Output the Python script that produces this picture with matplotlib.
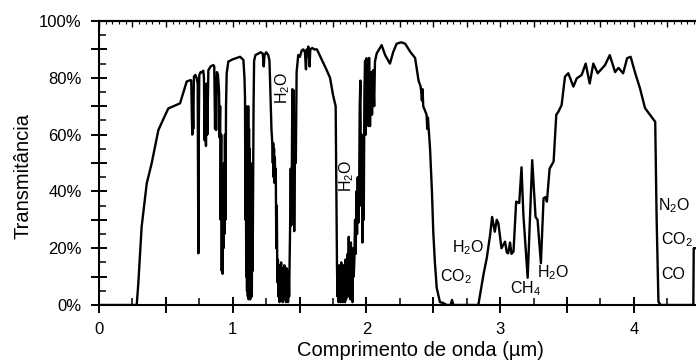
import numpy as np
import matplotlib.pyplot as plt
from matplotlib.ticker import MultipleLocator, FuncFormatter

plt.rcParams['font.family'] = ['Liberation Sans', 'DejaVu Sans']
plt.rcParams['mathtext.fontset'] = 'custom'
plt.rcParams['mathtext.rm'] = 'Liberation Sans'
plt.rcParams['mathtext.it'] = 'Liberation Sans'
plt.rcParams['mathtext.bf'] = 'Liberation Sans:bold'

# UV + visivel (um, %)
wl_vis = [0.00, 0.27, 0.282, 0.294, 0.319, 0.357, 0.394, 0.444, 0.518, 0.606, 0.656, 0.686]
tr_vis = [0, 0, 0, 7.6, 27.6, 42.8, 49.9, 61.6, 69.2, 71, 78.7, 79.2]

# bandas O2 / H2O 0.69 - 1.08
wl_nir = [0.690, 0.695, 0.698, 0.701, 0.705, 0.710, 0.720, 0.730, 0.738, 0.741, 0.743, 0.746,
          0.750, 0.760, 0.770, 0.780, 0.785, 0.790, 0.795, 0.800, 0.805, 0.810, 0.818, 0.835,
          0.855, 0.862, 0.868, 0.872, 0.876, 0.882, 0.890, 0.898, 0.902, 0.906, 0.910, 0.914,
          0.918, 0.921, 0.924, 0.927, 0.931, 0.935, 0.938, 0.942, 0.946, 0.950, 0.955, 0.967,
          1.000, 1.055, 1.080]
tr_nir = [79, 65, 60, 72, 62, 80.4, 81, 80, 78, 40, 18.2, 60,
          81, 82, 82, 82.5, 80, 58, 75, 56, 78, 60, 82.7, 84,
          84.5, 84, 62, 80, 61.6, 82, 81, 75, 59, 70, 30, 60,
          12, 40, 11, 35, 20, 50, 25, 60, 30, 70, 81.6, 85.7,
          86.5, 87.4, 86.3]

# banda 1.1 um
wl_b11 = [1.088, 1.092, 1.095, 1.098, 1.101, 1.104, 1.107, 1.110, 1.113, 1.116, 1.119, 1.122,
          1.125, 1.128, 1.131, 1.134, 1.137, 1.140, 1.143, 1.146, 1.149, 1.152, 1.156, 1.160,
          1.170, 1.190, 1.210, 1.225, 1.232, 1.238, 1.250, 1.266, 1.275]
tr_b11 = [80, 73, 30, 70, 10, 68, 5, 60, 3, 70, 2, 62,
          4, 55, 2, 50, 8, 45, 3, 35, 12, 40, 70, 86,
          88, 88.5, 89, 88.5, 84, 88, 89, 88, 86]

# banda 1.4 um
wl_b14 = [1.285, 1.290, 1.295, 1.300, 1.303, 1.306, 1.309, 1.312, 1.315, 1.318, 1.322, 1.326,
          1.330, 1.334, 1.338, 1.342, 1.346, 1.350, 1.354, 1.358, 1.362, 1.366, 1.370, 1.374,
          1.378, 1.382, 1.386, 1.390, 1.394, 1.398, 1.402, 1.406, 1.410, 1.414, 1.418, 1.422,
          1.426, 1.430, 1.434, 1.438, 1.442, 1.446, 1.450, 1.455, 1.460, 1.466, 1.472, 1.478,
          1.490, 1.503, 1.515, 1.528, 1.540, 1.548, 1.553, 1.560, 1.565, 1.575, 1.580, 1.595,
          1.610, 1.630, 1.670, 1.700, 1.728, 1.750, 1.765]
tr_b14 = [70, 61.6, 58, 50, 57, 45, 55, 43, 52, 44, 48, 20,
          35, 8, 16, 3, 14, 1, 12, 4, 15, 2, 13, 1,
          10, 3, 14, 2, 11, 1, 13, 4, 9, 1, 12, 3,
          16, 30, 48, 28, 45, 76, 40, 75.7, 26, 60, 50, 82,
          88, 87.4, 89.5, 90, 89, 83, 90, 88, 91, 84, 90, 90.5,
          90, 90, 86, 83, 80, 74, 71]

# banda 1.9 um
wl_b19 = [1.770, 1.775, 1.780, 1.784, 1.788, 1.792, 1.796, 1.800, 1.804, 1.808, 1.812, 1.816,
          1.820, 1.824, 1.828, 1.832, 1.836, 1.840, 1.844, 1.848, 1.852, 1.856, 1.860, 1.864,
          1.868, 1.872, 1.876, 1.880, 1.884, 1.888, 1.892, 1.896, 1.900, 1.905, 1.910, 1.915,
          1.920, 1.925, 1.930, 1.935, 1.940, 1.945, 1.950, 1.955, 1.960, 1.965, 1.970, 1.975,
          1.980, 1.985, 1.990, 1.995, 2.000, 2.005, 2.010, 2.015, 2.020, 2.027, 2.035, 2.042,
          2.050, 2.058, 2.064, 2.077]
tr_b19 = [70, 40, 13.5, 3, 12, 1, 14, 2, 10, 1, 15, 3,
          12, 1, 14, 4, 11, 1, 16, 2, 13, 5, 18, 3,
          24, 6, 20, 2, 22, 8, 18, 1, 20, 10, 16, 30,
          18, 40, 25, 45, 29, 37, 70, 79, 35, 60, 22, 52,
          30, 75, 86, 60, 86.9, 65, 81.6, 63, 87, 63, 82, 67,
          82.7, 70, 85.7, 88.6]

# janela 2.1 - 2.5 um e banda CO2 2.7 um
wl_b27 = [2.114, 2.140, 2.176, 2.200, 2.226, 2.260, 2.290, 2.330, 2.364, 2.390, 2.405, 2.410,
          2.415, 2.420, 2.425, 2.450, 2.455, 2.460, 2.476, 2.490, 2.500, 2.512, 2.526, 2.550,
          2.575, 2.600, 2.630, 2.640, 2.650, 2.837]
tr_b27 = [91.5, 88, 85, 89, 92, 92.5, 92, 89, 87, 79, 77, 75,
          72, 76, 70, 67, 62, 66, 55, 40, 25.8, 15, 6, 1,
          0.7, 0, 0, 1.8, 0, 0]

# 2.8 - 3.5 um (H2O, CH4)
wl_b33 = [2.875, 2.900, 2.925, 2.940, 2.960, 2.975, 2.987, 3.010, 3.037, 3.050, 3.060, 3.074,
          3.085, 3.100, 3.120, 3.143, 3.160, 3.174, 3.206, 3.240, 3.265, 3.280, 3.305, 3.325,
          3.340, 3.350, 3.370, 3.400, 3.420, 3.435, 3.460]
tr_b33 = [10.6, 16.5, 24.6, 31, 25.8, 30, 28.8, 20, 22.3, 18.5, 18.2, 22,
          18, 18.8, 36.4, 35.9, 48.5, 31.7, 9.6, 51, 31, 30, 14.7, 37.6,
          38, 36.4, 48, 50.5, 67, 68, 70.4]

# janela 3.5 - 4.2 um
wl_b40 = [3.485, 3.510, 3.548, 3.573, 3.610, 3.640, 3.670, 3.697, 3.730, 3.785, 3.820, 3.860,
          3.885, 3.920, 3.950, 3.976, 4.010, 4.046, 4.084, 4.120, 4.160, 4.170, 4.184, 4.200,
          4.445, 4.448, 4.600]
tr_b40 = [80.4, 81.6, 76.9, 79.8, 81, 85, 78, 85, 81.6, 84.5, 88, 82,
          83.5, 81.6, 86.9, 87.4, 81.7, 76.3, 69.3, 67, 64.5, 31.7, 1.2, 0,
          0, 20, 20]

wavelength = np.concatenate([wl_vis, wl_nir, wl_b11, wl_b14, wl_b19, wl_b27, wl_b33, wl_b40])
transmittance = np.concatenate([tr_vis, tr_nir, tr_b11, tr_b14, tr_b19, tr_b27, tr_b33, tr_b40])

# rotulos das moleculas
mol_text = [r'H$_2$O', r'H$_2$O', r'H$_2$O', r'CO$_2$', r'CH$_4$', r'H$_2$O',
            r'N$_2$O', r'CO$_2$', 'CO']
mol_x = [1.376, 1.853, 2.762, 2.669, 3.192, 3.392, 4.183, 4.200, 4.208]
mol_y = [76.4, 45.4, 20.2, 10.0, 5.9, 11.4, 34.9, 23.0, 10.6]
mol_rot = [90, 90, 0, 0, 0, 0, 0, 0, 0]
mol_ha = ['center'] * 6 + ['left'] * 3

fig = plt.figure(figsize=(6.96, 3.63), dpi=100)
ax = fig.add_axes([99 / 696, 58 / 363, 597 / 696, 284 / 363])

ax.plot(wavelength, transmittance, color='black', lw=1.7)

for t, x, y, r, ha in zip(mol_text, mol_x, mol_y, mol_rot, mol_ha):
    ax.text(x, y, t, rotation=r, ha=ha, va='center', fontsize=11.5)

ax.set_xlim(0, 4.465)
ax.set_ylim(0, 100)

ax.xaxis.set_major_locator(MultipleLocator(0.5))
ax.xaxis.set_minor_locator(MultipleLocator(0.25))
ax.xaxis.set_major_formatter(FuncFormatter(lambda v, p: f'{v:.0f}' if abs(v - round(v)) < 1e-6 else ''))
ax.yaxis.set_major_locator(MultipleLocator(10))
ax.yaxis.set_minor_locator(MultipleLocator(5))
ax.yaxis.set_major_formatter(FuncFormatter(lambda v, p: f'{v:.0f}%' if round(v) % 20 == 0 else ''))

ax.tick_params(which='major', direction='inout', length=11, width=1.4, labelsize=12, pad=7)
ax.tick_params(which='minor', direction='in', length=5, width=1.1)

top = ax.secondary_xaxis('top')
top.xaxis.set_major_locator(MultipleLocator(0.25))
top.xaxis.set_minor_locator(MultipleLocator(0.05))
top.tick_params(which='major', direction='in', length=4, width=1, labeltop=False)
top.tick_params(which='minor', direction='in', length=2, width=0.8)
top.spines['top'].set_linewidth(1.5)

ax.spines['right'].set_visible(False)
for s in ['left', 'bottom', 'top']:
    ax.spines[s].set_linewidth(1.5)

ax.set_xlabel('Comprimento de onda (µm)', fontsize=14.5)
ax.set_ylabel('Transmitância', fontsize=14.5)
ax.xaxis.set_label_coords(0.538, -0.125)
ax.yaxis.set_label_coords(-0.112, 0.454)

fig.savefig('out.png', dpi=100)
